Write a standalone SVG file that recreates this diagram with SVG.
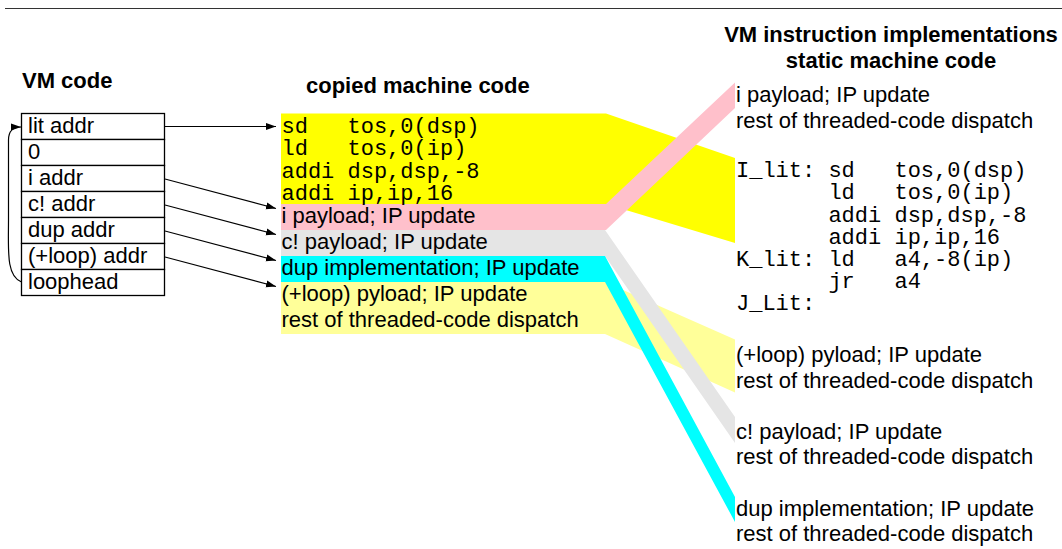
<svg xmlns="http://www.w3.org/2000/svg" width="1062" height="549" viewBox="0 0 1062 549">
<defs>
<style>
.t{font-family:"Liberation Sans",Arial,sans-serif;font-size:22px;fill:#000}
.b{font-family:"Liberation Sans",Arial,sans-serif;font-size:22px;font-weight:bold;fill:#000}
.m{font-family:"Liberation Mono","Courier New",monospace;font-size:22px;fill:#000;white-space:pre}
.cell{fill:#fff;stroke:#000;stroke-width:1.3}
.arr{fill:none;stroke:#000;stroke-width:1.2;marker-end:url(#ah)}
</style>
<marker id="ah" markerWidth="11" markerHeight="8" refX="10" refY="4" orient="auto" markerUnits="userSpaceOnUse">
<path d="M0,0.5 L10,4 L0,7.5 Z" fill="#000"/>
</marker>
</defs>
<rect width="1062" height="549" fill="#fff"/>
<line x1="5" y1="8.5" x2="1062" y2="8.5" stroke="#333" stroke-width="1.2"/>

<g id="bands">
<polygon id="band-lit" points="281,113.5 606,113.5 735,158 735,243 606,204 281,204" fill="#ffff00"/>
<polygon id="band-i" points="281,204 606,204 735,82.5 735,108 606,230 281,230" fill="#ffc0cb"/>
<polygon id="band-loop" points="281,282 605,282 735,339.5 735,392.5 605,334 281,334" fill="#ffff99"/>
<polygon id="band-c" points="281,230 605,230 735,417 735,443 605,256 281,256" fill="#e5e5e5"/>
<polygon id="band-dup" points="281,256 605,256 735,497 735,522 605,282 281,282" fill="#00ffff"/>
</g>

<g id="titles">
<text class="b" x="22" y="88">VM code</text>
<text class="b" x="306" y="93">copied machine code</text>
<text class="b" x="891" y="42" text-anchor="middle">VM instruction implementations</text>
<text class="b" x="891" y="68" text-anchor="middle">static machine code</text>
</g>

<g id="vm-code">
<g id="cell-lit"><rect class="cell" x="21.5" y="113.5" width="143" height="26"/><text class="t" x="28" y="133">lit addr</text></g>
<g id="cell-0"><rect class="cell" x="21.5" y="139.5" width="143" height="26"/><text class="t" x="28" y="159">0</text></g>
<g id="cell-i"><rect class="cell" x="21.5" y="165.5" width="143" height="26"/><text class="t" x="28" y="185">i addr</text></g>
<g id="cell-c"><rect class="cell" x="21.5" y="191.5" width="143" height="26"/><text class="t" x="28" y="211">c! addr</text></g>
<g id="cell-dup"><rect class="cell" x="21.5" y="217.5" width="143" height="26"/><text class="t" x="28" y="237">dup addr</text></g>
<g id="cell-loop"><rect class="cell" x="21.5" y="243.5" width="143" height="26"/><text class="t" x="28" y="263">(+loop) addr</text></g>
<g id="cell-loophead"><rect class="cell" x="21.5" y="269.5" width="143" height="26"/><text class="t" x="28" y="289">loophead</text></g>
</g>

<g id="copied-code">
<text class="m" x="281.5" y="133">sd   tos,0(dsp)</text>
<text class="m" x="281.5" y="155">ld   tos,0(ip)</text>
<text class="m" x="281.5" y="177.5">addi dsp,dsp,-8</text>
<text class="m" x="281.5" y="199.5">addi ip,ip,16</text>
<text class="t" x="281.5" y="223">i payload; IP update</text>
<text class="t" x="281.5" y="249">c! payload; IP update</text>
<text class="t" x="281.5" y="275">dup implementation; IP update</text>
<text class="t" x="281.5" y="301">(+loop) pyload; IP update</text>
<text class="t" x="281.5" y="327">rest of threaded-code dispatch</text>
</g>

<g id="static-i">
<text class="t" x="736" y="102">i payload; IP update</text>
<text class="t" x="736" y="128">rest of threaded-code dispatch</text>
</g>
<g id="static-lit">
<text class="m" x="736" y="177">I_lit: sd   tos,0(dsp)</text>
<text class="m" x="736" y="199">       ld   tos,0(ip)</text>
<text class="m" x="736" y="221.5">       addi dsp,dsp,-8</text>
<text class="m" x="736" y="243.5">       addi ip,ip,16</text>
<text class="m" x="736" y="266">K_lit: ld   a4,-8(ip)</text>
<text class="m" x="736" y="288">       jr   a4</text>
<text class="m" x="736" y="310">J_Lit:</text>
</g>
<g id="static-loop">
<text class="t" x="736" y="362">(+loop) pyload; IP update</text>
<text class="t" x="736" y="388">rest of threaded-code dispatch</text>
</g>
<g id="static-c">
<text class="t" x="736" y="439">c! payload; IP update</text>
<text class="t" x="736" y="464">rest of threaded-code dispatch</text>
</g>
<g id="static-dup">
<text class="t" x="736" y="516">dup implementation; IP update</text>
<text class="t" x="736" y="541">rest of threaded-code dispatch</text>
</g>

<g id="connectors">
<path class="arr" d="M165,126.5 L276,126.5"/>
<path class="arr" d="M165,179 L276,208.5"/>
<path class="arr" d="M165,205 L276,234.5"/>
<path class="arr" d="M165,231 L276,260.5"/>
<path class="arr" d="M165,257 L276,286.5"/>
<path class="arr" d="M21.5,282 C6,276 8.5,250 8.5,220 L8.5,140 Q8.5,127 21,127"/>
</g>
</svg>
